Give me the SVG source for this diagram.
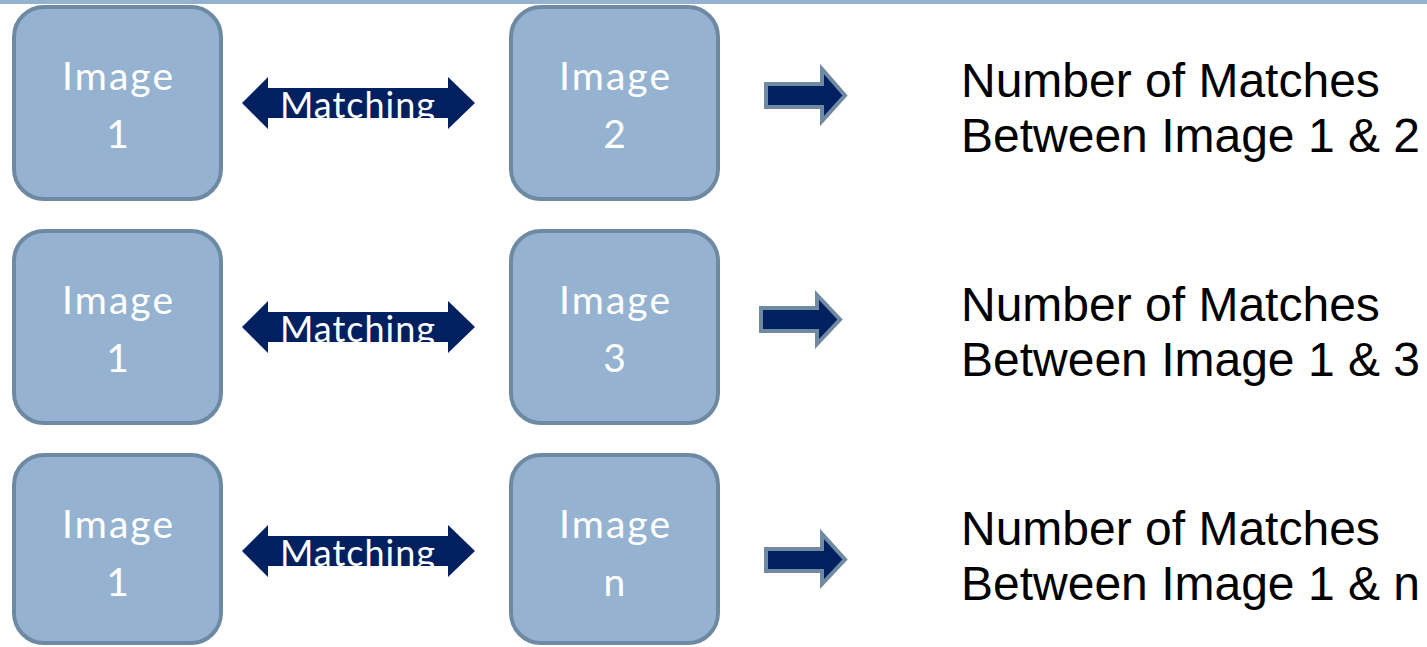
<svg xmlns="http://www.w3.org/2000/svg" width="1427" height="647" viewBox="0 0 1427 647">
  <style>
    .box { fill: #95b3d1; stroke: #6e8aa2; stroke-width: 4; }
    .boxtxt { fill: #ffffff; font-family: "Lato", "Open Sans", sans-serif; font-size: 39px; text-anchor: middle; }
    .dbl { fill: #002060; }
    .dbltxt { fill: #ffffff; font-family: "Lato", "Open Sans", sans-serif; font-size: 36px; }
    .out { fill: #002060; stroke: #6f8aa1; stroke-width: 4; stroke-linejoin: miter; }
    .res { fill: #000000; font-family: "Liberation Sans", Arial, sans-serif; font-size: 48px; }
  </style>
  <defs>
    <clipPath id="shaftClip1"><rect x="268" y="88" width="180" height="30"/></clipPath>
    <clipPath id="shaftClip2"><rect x="268" y="312" width="180" height="30"/></clipPath>
    <clipPath id="shaftClip3"><rect x="268" y="536" width="180" height="30"/></clipPath>
  </defs>

  <!-- header rule -->
  <rect x="0" y="0" width="1427" height="4" fill="#95b3d1"/>

  <!-- row 1 -->
  <g id="img1-row1">
    <rect class="box" x="14" y="7" width="207" height="192" rx="30"/>
    <text class="boxtxt" x="117.5" y="90" textLength="111">Image</text>
    <text class="boxtxt" x="117.5" y="148">1</text>
  </g>
  <g id="img2">
    <rect class="box" x="511" y="7" width="207" height="192" rx="30"/>
    <text class="boxtxt" x="614.5" y="90" textLength="111">Image</text>
    <text class="boxtxt" x="614.5" y="148">2</text>
  </g>
  <g id="result-row1">
    <text class="res" x="961" y="97">Number of Matches</text>
    <text class="res" x="961" y="152">Between Image 1 &amp; 2</text>
  </g>

  <!-- row 2 -->
  <g id="img1-row2">
    <rect class="box" x="14" y="231" width="207" height="192" rx="30"/>
    <text class="boxtxt" x="117.5" y="314" textLength="111">Image</text>
    <text class="boxtxt" x="117.5" y="372">1</text>
  </g>
  <g id="img3">
    <rect class="box" x="511" y="231" width="207" height="192" rx="30"/>
    <text class="boxtxt" x="614.5" y="314" textLength="111">Image</text>
    <text class="boxtxt" x="614.5" y="372">3</text>
  </g>
  <g id="result-row2">
    <text class="res" x="961" y="321">Number of Matches</text>
    <text class="res" x="961" y="376">Between Image 1 &amp; 3</text>
  </g>

  <!-- row 3 -->
  <g id="img1-row3">
    <rect class="box" x="14" y="455" width="207" height="188" rx="30"/>
    <text class="boxtxt" x="117.5" y="538" textLength="111">Image</text>
    <text class="boxtxt" x="117.5" y="596">1</text>
  </g>
  <g id="imgn">
    <rect class="box" x="511" y="455" width="207" height="188" rx="30"/>
    <text class="boxtxt" x="614.5" y="538" textLength="111">Image</text>
    <text class="boxtxt" x="614.5" y="596">n</text>
  </g>
  <g id="result-row3">
    <text class="res" x="961" y="545">Number of Matches</text>
    <text class="res" x="961" y="600">Between Image 1 &amp; n</text>
  </g>

  <!-- connectors -->
  <g id="connectors">
    <!-- matching double arrows; label is clipped to the shaft -->
    <path class="dbl" d="M242,103 L268,77 L268,88 L448,88 L448,77 L475,103 L448,129 L448,118 L268,118 L268,129 Z"/>
    <text class="dbltxt" x="280" y="118" textLength="155" clip-path="url(#shaftClip1)">Matching</text>

    <path class="dbl" d="M242,327 L268,301 L268,312 L448,312 L448,301 L475,327 L448,353 L448,342 L268,342 L268,353 Z"/>
    <text class="dbltxt" x="280" y="342" textLength="155" clip-path="url(#shaftClip2)">Matching</text>

    <path class="dbl" d="M242,551 L268,525 L268,536 L448,536 L448,525 L475,551 L448,577 L448,566 L268,566 L268,577 Z"/>
    <text class="dbltxt" x="280" y="566" textLength="155" clip-path="url(#shaftClip3)">Matching</text>

    <!-- result arrows -->
    <path class="out" d="M766,84 L822,84 L822,69 L845,95.5 L822,121 L822,107 L766,107 Z"/>
    <path class="out" d="M761,308 L817,308 L817,295 L840,319.5 L817,344 L817,331 L761,331 Z"/>
    <path class="out" d="M766,549 L822,549 L822,534 L845,559.5 L822,584 L822,571 L766,571 Z"/>
  </g>
</svg>
